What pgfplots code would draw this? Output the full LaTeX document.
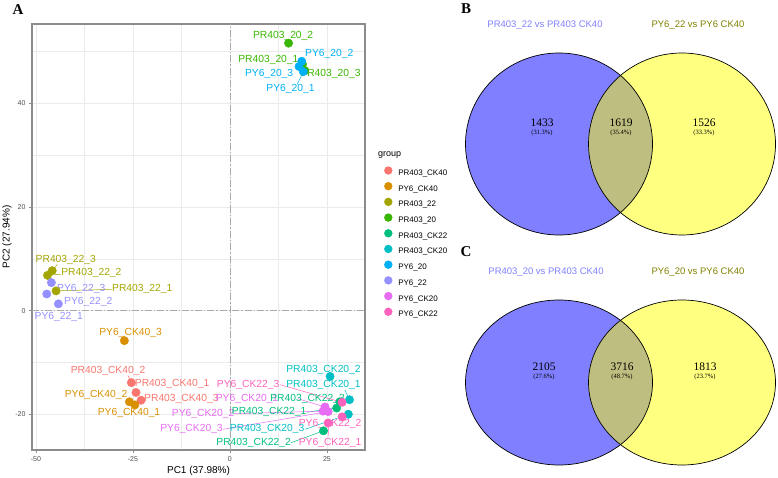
\documentclass[border=0pt]{standalone}
\usepackage{pgfplots}
\pgfplotsset{compat=1.18}
\usepackage{fontspec}
\setmainfont{Liberation Sans}
\newfontfamily\seriffont{Liberation Serif}
\definecolor{cA}{HTML}{F8766D}
\definecolor{cB}{HTML}{D89000}
\definecolor{cC}{HTML}{A3A500}
\definecolor{cD}{HTML}{39B600}
\definecolor{cE}{HTML}{00BF7D}
\definecolor{cF}{HTML}{00BFC4}
\definecolor{cG}{HTML}{00B0F6}
\definecolor{cH}{HTML}{9590FF}
\definecolor{cI}{HTML}{E76BF3}
\definecolor{cJ}{HTML}{FF62BC}
\definecolor{gridc}{HTML}{EBEBEB}
\definecolor{bordc}{HTML}{8C8C8C}
\definecolor{tickc}{HTML}{4D4D4D}
\definecolor{zeroc}{HTML}{AAAAAA}
\definecolor{vblue}{HTML}{7F7FFF}
\definecolor{vyel}{HTML}{FFFF80}
\definecolor{vmid}{HTML}{BEBE80}
\definecolor{vtl}{HTML}{8080FF}
\definecolor{vtr}{HTML}{808000}
\newcommand{\lab}[4]{\node[font=\fontsize{10.3}{12}\selectfont, text=#4, inner sep=0pt, anchor=center] at (axis cs:#1,#2) {#3};}
\newcommand{\seg}[5]{\draw[#5, line width=0.5pt] (axis cs:#1,#2) -- (axis cs:#3,#4);}
\begin{document}
\begin{tikzpicture}
\path[use as bounding box] (0pt,0pt) rectangle (778pt,477pt);
\begin{axis}[
  at={(32pt,27pt)}, anchor=south west, scale only axis, width=333pt, height=426pt,
  xmin=-51, xmax=34.8, ymin=-26.9, ymax=55.3,
  xtick={-50,-25,0,25}, ytick={-20,0,20,40},
  minor xtick={-37.5,-12.5,12.5}, minor ytick={-10,10,30,50},
  grid=both,
  major grid style={color=gridc, line width=0.5pt},
  minor grid style={color=gridc, line width=0.3pt},
  axis line style={color=bordc, line width=1.2pt},
  tick style={color=bordc, line width=0.6pt},
  tick align=outside, major tick length=3pt, minor tick length=0pt,
  xtick pos=lower, ytick pos=left,
  ticklabel style={font=\fontsize{7}{8}\selectfont, text=tickc},
  /pgf/number format/assume math mode=true,
  xlabel={PC1 (37.98\%)}, ylabel={PC2 (27.94\%)},
  label style={font=\fontsize{10}{12}\selectfont},
  every axis x label/.append style={at={(axis description cs:0.5,-0.049)}, anchor=center},
  every axis y label/.append style={at={(axis description cs:-0.075,0.5)}, anchor=center},
  legend style={at={(axis description cs:1.058,0.662)}, anchor=north west, draw=none, fill=none,
     font=\fontsize{8}{9}\selectfont, inner sep=0pt, outer sep=0pt, row sep=7.2pt, column sep=0pt,
     nodes={inner sep=0pt, text height=6pt, text depth=1pt}},
  legend cell align=left,
  legend image code/.code={\fill[#1, draw=none, overlay] (4pt,2.5pt) circle[radius=4.2pt]; \path[draw=none, fill=none] (0pt,0pt) rectangle (14pt,5pt);},
  clip=false,
]
% zero lines
\draw[zeroc, line width=0.8pt, dash pattern=on 7pt off 2pt on 1.5pt off 2pt] (axis cs:0,-26.9) -- (axis cs:0,55.3);
\draw[zeroc, line width=0.8pt, dash pattern=on 7pt off 2pt on 1.5pt off 2pt] (axis cs:-51,0) -- (axis cs:34.8,0);
% leader segments
\seg{-44.8}{3.8}{-30.5}{4.1}{cC}
\seg{-47.0}{6.8}{-43.6}{7.0}{cC}
\seg{-45.8}{7.7}{-44.5}{8.9}{cC}
\seg{-25.4}{-13.9}{-26.3}{-12.5}{cA}
\seg{18.9}{46.1}{17.3}{43.6}{cG}
\seg{30.8}{-17.2}{29.6}{-15.3}{cF}
\seg{28.9}{-17.7}{12.9}{-14.3}{cJ}
\seg{24.5}{-18.6}{17.5}{-17.0}{cI}
\seg{27.5}{-18.8}{19.8}{-19.6}{cE}
\seg{24.0}{-19.4}{1.0}{-19.9}{cI}
\seg{25.3}{-19.5}{-1.8}{-22.9}{cI}
\seg{30.5}{-20.0}{19.4}{-22.9}{cF}
\seg{24.1}{-23.2}{15.7}{-25.5}{cE}
\seg{25.3}{-21.7}{25.5}{-24.3}{cJ}
% labels
\lab{13.7}{53.0}{PR403\_20\_2}{cD}
\lab{25.6}{49.5}{PY6\_20\_2}{cG}
\lab{9.9}{48.4}{PR403\_20\_1}{cD}
\lab{10.1}{45.7}{PY6\_20\_3}{cG}
\lab{25.9}{45.7}{PR403\_20\_3}{cD}
\lab{15.6}{42.8}{PY6\_20\_1}{cG}
\lab{-42.3}{9.8}{PR403\_22\_3}{cC}
\lab{-35.7}{7.2}{PR403\_22\_2}{cC}
\lab{-38.3}{4.2}{PY6\_22\_3}{cH}
\lab{-22.6}{4.2}{PR403\_22\_1}{cC}
\lab{-36.5}{1.6}{PY6\_22\_2}{cH}
\lab{-44.1}{-1.3}{PY6\_22\_1}{cH}
\lab{-25.6}{-4.4}{PY6\_CK40\_3}{cB}
\lab{-31.4}{-11.6}{PR403\_CK40\_2}{cA}
\lab{-14.9}{-14.2}{PR403\_CK40\_1}{cA}
\lab{-12.5}{-17.0}{PR403\_CK40\_3}{cA}
\lab{-34.5}{-16.3}{PY6\_CK40\_2}{cB}
\lab{-26.0}{-19.8}{PY6\_CK40\_1}{cB}
\lab{24.1}{-11.4}{PR403\_CK20\_2}{cF}
\lab{24.1}{-14.3}{PR403\_CK20\_1}{cF}
\lab{4.7}{-14.3}{PY6\_CK22\_3}{cJ}
\lab{4.4}{-17.0}{PY6\_CK20\_1}{cI}
\lab{20.0}{-17.0}{PR403\_CK22\_3}{cE}
\lab{-6.9}{-20.0}{PY6\_CK20\_2}{cI}
\lab{10.1}{-19.6}{PR403\_CK22\_1}{cE}
\lab{25.8}{-21.9}{PY6\_CK22\_2}{cJ}
\lab{-9.9}{-22.9}{PY6\_CK20\_3}{cI}
\lab{9.6}{-22.9}{PR403\_CK20\_3}{cF}
\lab{6.1}{-25.5}{PR403\_CK22\_2}{cE}
\lab{25.8}{-25.5}{PY6\_CK22\_1}{cJ}
% points
\addplot[only marks, mark=*, mark size=4.2pt, color=cA] coordinates {(-24.2,-15.8) (-25.4,-13.9) (-22.9,-17.3)};
\addlegendentry{PR403\_CK40}
\addplot[only marks, mark=*, mark size=4.2pt, color=cB] coordinates {(-24.5,-18.2) (-25.9,-17.6) (-27.2,-5.8)};
\addlegendentry{PY6\_CK40}
\addplot[only marks, mark=*, mark size=4.2pt, color=cC] coordinates {(-44.8,3.8) (-47.0,6.8) (-45.8,7.7)};
\addlegendentry{PR403\_22}
\addplot[only marks, mark=*, mark size=4.2pt, color=cD] coordinates {(18.7,47.5) (15.1,51.6) (19.3,46.3)};
\addlegendentry{PR403\_20}
\addplot[only marks, mark=*, mark size=4.2pt, color=cE] coordinates {(27.5,-18.8) (24.1,-23.2) (28.3,-17.6)};
\addlegendentry{PR403\_CK22}
\addplot[only marks, mark=*, mark size=4.2pt, color=cF] coordinates {(30.8,-17.2) (25.8,-12.7) (30.5,-20.0)};
\addlegendentry{PR403\_CK20}
\addplot[only marks, mark=*, mark size=4.2pt, color=cG] coordinates {(18.9,46.1) (18.5,48.1) (17.8,47.1)};
\addlegendentry{PY6\_20}
\addplot[only marks, mark=*, mark size=4.2pt, color=cH] coordinates {(-47.2,3.2) (-44.2,1.3) (-46.0,5.4)};
\addlegendentry{PY6\_22}
\addplot[only marks, mark=*, mark size=4.2pt, color=cI] coordinates {(24.5,-18.6) (24.0,-19.4) (25.3,-19.5)};
\addlegendentry{PY6\_CK20}
\addplot[only marks, mark=*, mark size=4.2pt, color=cJ] coordinates {(25.3,-21.7) (28.9,-20.5) (28.9,-17.7)};
\addlegendentry{PY6\_CK22}
\end{axis}
\begin{scope}[x=1pt,y=1pt]
% legend title
\node[font=\fontsize{9}{10}\selectfont, anchor=west, inner sep=0pt] at (378,477-155) {group};
% panel letters
\node[font=\seriffont\bfseries\fontsize{15}{16}\selectfont, inner sep=0pt] at (18,477-10) {A};
\node[font=\seriffont\bfseries\fontsize{15}{16}\selectfont, inner sep=0pt] at (466,477-9) {B};
\node[font=\seriffont\bfseries\fontsize{15}{16}\selectfont, inner sep=0pt] at (466,477-252) {C};
% Venn B
\begin{scope}[shift={(0,477-144)}]
\fill[vblue] (559,0) ellipse [x radius=93.5, y radius=91];
\fill[vyel] (682,0) ellipse [x radius=93.5, y radius=91];
\begin{scope}
\clip (559,0) ellipse [x radius=93.5, y radius=91];
\fill[vmid] (682,0) ellipse [x radius=93.5, y radius=91];
\end{scope}
\draw[black, line width=0.7pt] (559,0) ellipse [x radius=93.5, y radius=91];
\draw[black, line width=0.7pt] (682,0) ellipse [x radius=93.5, y radius=91];
\end{scope}
\node[font=\fontsize{9.5}{11}\selectfont, text=vtl, inner sep=0pt] at (545,477-25) {PR403\_22 vs PR403 CK40};
\node[font=\fontsize{9.5}{11}\selectfont, text=vtr, inner sep=0pt] at (698,477-25) {PY6\_22 vs PY6 CK40};
\node[font=\seriffont\fontsize{11.5}{12}\selectfont, inner sep=0pt] at (542,477-123) {1433};
\node[font=\seriffont\fontsize{6.5}{7}\selectfont, inner sep=0pt] at (542,477-132.5) {(31.3\%)};
\node[font=\seriffont\fontsize{11.5}{12}\selectfont, inner sep=0pt] at (621,477-123) {1619};
\node[font=\seriffont\fontsize{6.5}{7}\selectfont, inner sep=0pt] at (621,477-132.5) {(35.4\%)};
\node[font=\seriffont\fontsize{11.5}{12}\selectfont, inner sep=0pt] at (704,477-123) {1526};
\node[font=\seriffont\fontsize{6.5}{7}\selectfont, inner sep=0pt] at (704,477-132.5) {(33.3\%)};
% Venn C
\begin{scope}[shift={(0,477-382.5)}]
\fill[vblue] (559,0) ellipse [x radius=93.5, y radius=82.5];
\fill[vyel] (682,0) ellipse [x radius=93.5, y radius=82.5];
\begin{scope}
\clip (559,0) ellipse [x radius=93.5, y radius=82.5];
\fill[vmid] (682,0) ellipse [x radius=93.5, y radius=82.5];
\end{scope}
\draw[black, line width=0.7pt] (559,0) ellipse [x radius=93.5, y radius=82.5];
\draw[black, line width=0.7pt] (682,0) ellipse [x radius=93.5, y radius=82.5];
\end{scope}
\node[font=\fontsize{9.5}{11}\selectfont, text=vtl, inner sep=0pt] at (546,477-272) {PR403\_20 vs PR403 CK40};
\node[font=\fontsize{9.5}{11}\selectfont, text=vtr, inner sep=0pt] at (698,477-272) {PY6\_20 vs PY6 CK40};
\node[font=\seriffont\fontsize{11.5}{12}\selectfont, inner sep=0pt] at (544,477-366.5) {2105};
\node[font=\seriffont\fontsize{6.5}{7}\selectfont, inner sep=0pt] at (544,477-376.5) {(27.6\%)};
\node[font=\seriffont\fontsize{11.5}{12}\selectfont, inner sep=0pt] at (622,477-366.5) {3716};
\node[font=\seriffont\fontsize{6.5}{7}\selectfont, inner sep=0pt] at (622,477-376.5) {(48.7\%)};
\node[font=\seriffont\fontsize{11.5}{12}\selectfont, inner sep=0pt] at (705,477-366.5) {1813};
\node[font=\seriffont\fontsize{6.5}{7}\selectfont, inner sep=0pt] at (705,477-376.5) {(23.7\%)};
\end{scope}
\end{tikzpicture}
\end{document}
